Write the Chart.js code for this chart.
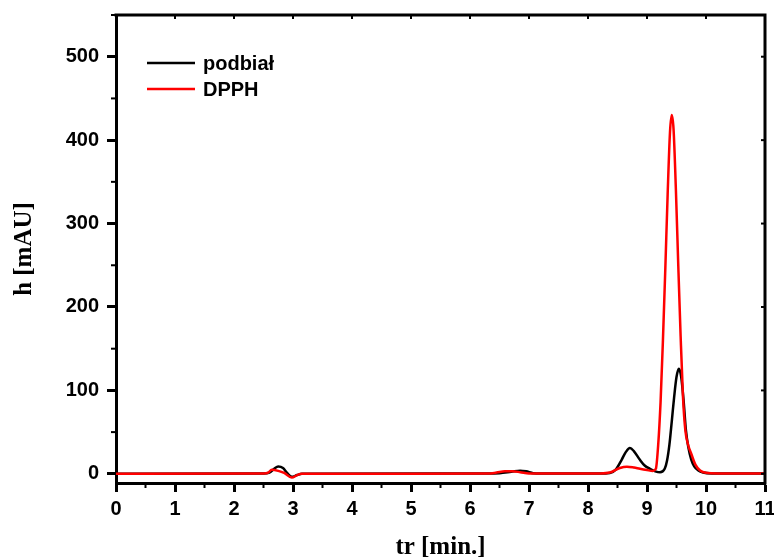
<!DOCTYPE html>
<html>
<head>
<meta charset="utf-8">
<script src="https://cdn.jsdelivr.net/npm/chart.js@4"></script>
<style>
  html, body { margin: 0; padding: 0; background: #fff; }
  #wrap { width: 774px; height: 558px; }
</style>
</head>
<body>
<div id="wrap"><canvas id="chromChart" width="774" height="558"></canvas></div>
<script>
// Chromatogram data (retention time in min, height in mAU)
const podbialTime = [0, 2.5, 2.6, 2.68, 2.75, 2.83, 2.9, 2.98, 3.07, 3.15, 6.3, 6.5, 6.7, 6.85, 6.95, 7.07, 7.2,
    8.2, 8.37, 8.47, 8.57, 8.64, 8.71, 8.78, 8.88, 8.96, 9.05, 9.14, 9.22, 9.3, 9.34, 9.38, 9.42, 9.46, 9.5,
    9.54, 9.58, 9.62, 9.66, 9.7, 9.75, 9.8, 9.87, 9.95, 10.1, 11];
const podbialH = [0, 0.5, 1.5, 6, 8.8, 7, 1, -3.5, -1.5, 0, 0.3, 0.8, 2.5, 3.8, 3, 0.8, 0.3,
    0.3, 1, 5, 16.8, 26, 31, 27, 16.8, 10, 6, 3, 1.8, 6, 16, 35, 63, 92, 116,
    126, 116, 88, 52, 32, 17, 9, 4, 1.5, 0.5, 0.3];

const dpphTime = [0, 2.5, 2.58, 2.64, 2.75, 2.85, 2.98, 3.07, 3.15, 6.3, 6.45, 6.59, 6.72, 6.85, 7.0, 7.2,
    8.2, 8.37, 8.54, 8.66, 8.78, 8.88, 9.0, 9.1, 9.15, 9.19, 9.23, 9.27, 9.31, 9.35, 9.39, 9.42, 9.45, 9.49,
    9.53, 9.57, 9.61, 9.65, 9.7, 9.75, 9.82, 9.9, 10.0, 10.2, 11];
const dpphH = [0, 0.5, 1.5, 4.8, 3.5, 1, -4.5, -1.5, 0, 0.3, 1.5, 3, 3, 2, 0.5, 0.3,
    0.5, 1.5, 7, 8.6, 7.5, 6, 4.5, 3.5, 6, 35, 86, 160, 245, 335, 410, 430, 413, 340,
    250, 165, 92, 52, 34, 24, 11, 4, 1.2, 0.5, 0.5];

const seriesLabels = ['podbiał', 'DPPH'];
const seriesColors = ['#000000', '#ff0000'];

const xTicks = [0, 1, 2, 3, 4, 5, 6, 7, 8, 9, 10, 11];
const yTicks = [0, 100, 200, 300, 400, 500];

function toPoints(xs, ys) {
    return xs.map((x, i) => ({ x: x, y: ys[i] }));
}

const tickFont = { family: 'Liberation Sans, Arial, sans-serif', size: 20, weight: 'bold' };
const titleFont = { family: 'Liberation Serif, Times New Roman, serif', size: 25, weight: 'bold' };

// top/right frame, minor ticks and the in-plot legend
const framePlugin = {
    id: 'frame',
    afterDraw(chart) {
        const ctx = chart.ctx;
        const a = chart.chartArea;
        const xs = chart.scales.x, ys = chart.scales.y;
        ctx.save();
        ctx.strokeStyle = '#000';
        ctx.lineWidth = 3;
        ctx.beginPath();
        ctx.moveTo(a.left - 1.5, a.top);
        ctx.lineTo(a.right, a.top);
        ctx.lineTo(a.right, a.bottom + 1.5);
        ctx.stroke();

        // minor ticks half way between the major ones
        ctx.lineWidth = 2;
        for (let i = 0; i < xTicks.length - 1; i++) {
            const px = xs.getPixelForValue((xTicks[i] + xTicks[i + 1]) / 2);
            ctx.beginPath();
            ctx.moveTo(px, a.bottom);
            ctx.lineTo(px, a.bottom + 5);
            ctx.stroke();
        }
        for (let i = 0; i < yTicks.length; i++) {
            const py = ys.getPixelForValue(yTicks[i] + 50);
            if (py < a.top) continue;
            ctx.beginPath();
            ctx.moveTo(a.left, py);
            ctx.lineTo(a.left - 5, py);
            ctx.stroke();
        }
        // small inward ticks on top and right
        xTicks.forEach(v => {
            const px = xs.getPixelForValue(v);
            ctx.beginPath();
            ctx.moveTo(px, a.top);
            ctx.lineTo(px, a.top + 4);
            ctx.stroke();
        });
        yTicks.forEach(v => {
            const py = ys.getPixelForValue(v);
            ctx.beginPath();
            ctx.moveTo(a.right, py);
            ctx.lineTo(a.right - 4, py);
            ctx.stroke();
        });

        // legend
        ctx.font = 'bold 20px "Liberation Sans", Arial, sans-serif';
        ctx.textBaseline = 'middle';
        ctx.fillStyle = '#000';
        chart.data.datasets.forEach((ds, i) => {
            const y = 63 + i * 26;
            ctx.strokeStyle = ds.borderColor;
            ctx.lineWidth = 2.5;
            ctx.beginPath();
            ctx.moveTo(147, y);
            ctx.lineTo(195, y);
            ctx.stroke();
            ctx.fillText(ds.label, 203, y + 1);
        });
        ctx.restore();
    }
};

new Chart(document.getElementById('chromChart'), {
    type: 'line',
    data: {
        datasets: [
            {
                label: seriesLabels[0],
                data: toPoints(podbialTime, podbialH),
                borderColor: seriesColors[0],
                borderWidth: 2.5,
                pointRadius: 0,
                cubicInterpolationMode: 'monotone',
                order: 1
            },
            {
                label: seriesLabels[1],
                data: toPoints(dpphTime, dpphH),
                borderColor: seriesColors[1],
                borderWidth: 2.5,
                pointRadius: 0,
                cubicInterpolationMode: 'monotone',
                order: 0
            }
        ]
    },
    options: {
        responsive: false,
        animation: false,
        devicePixelRatio: 1,
        layout: { padding: { top: 15, right: 9, left: 0, bottom: 0 } },
        plugins: {
            legend: { display: false },
            tooltip: { enabled: false }
        },
        scales: {
            x: {
                type: 'linear',
                min: 0,
                max: 11,
                afterBuildTicks: s => { s.ticks = xTicks.map(v => ({ value: v })); },
                afterFit: s => { s.height = 75; s.paddingLeft = 0; s.paddingRight = 0; },
                grid: { drawOnChartArea: false, drawTicks: true, tickLength: 9, tickWidth: 3, tickColor: '#000' },
                border: { display: true, width: 3, color: '#000' },
                ticks: { font: tickFont, color: '#000', padding: 5, maxRotation: 0, autoSkip: false },
                title: { display: true, text: 'tr [min.]', font: Object.assign({ lineHeight: 0.8 }, titleFont), color: '#000', padding: 0 }
            },
            y: {
                type: 'linear',
                min: -11,
                max: 550,
                afterBuildTicks: s => { s.ticks = yTicks.map(v => ({ value: v })); },
                afterFit: s => { s.width = 116; s.paddingTop = 0; s.paddingBottom = 0; },
                grid: { drawOnChartArea: false, drawTicks: true, tickLength: 9, tickWidth: 3, tickColor: '#000' },
                border: { display: true, width: 3, color: '#000' },
                ticks: { font: tickFont, color: '#000', padding: 8 },
                title: { display: true, text: 'h [mAU]', font: titleFont, color: '#000', padding: { top: 10, bottom: 0 } }
            }
        }
    },
    plugins: [framePlugin]
});
</script>
</body>
</html>
